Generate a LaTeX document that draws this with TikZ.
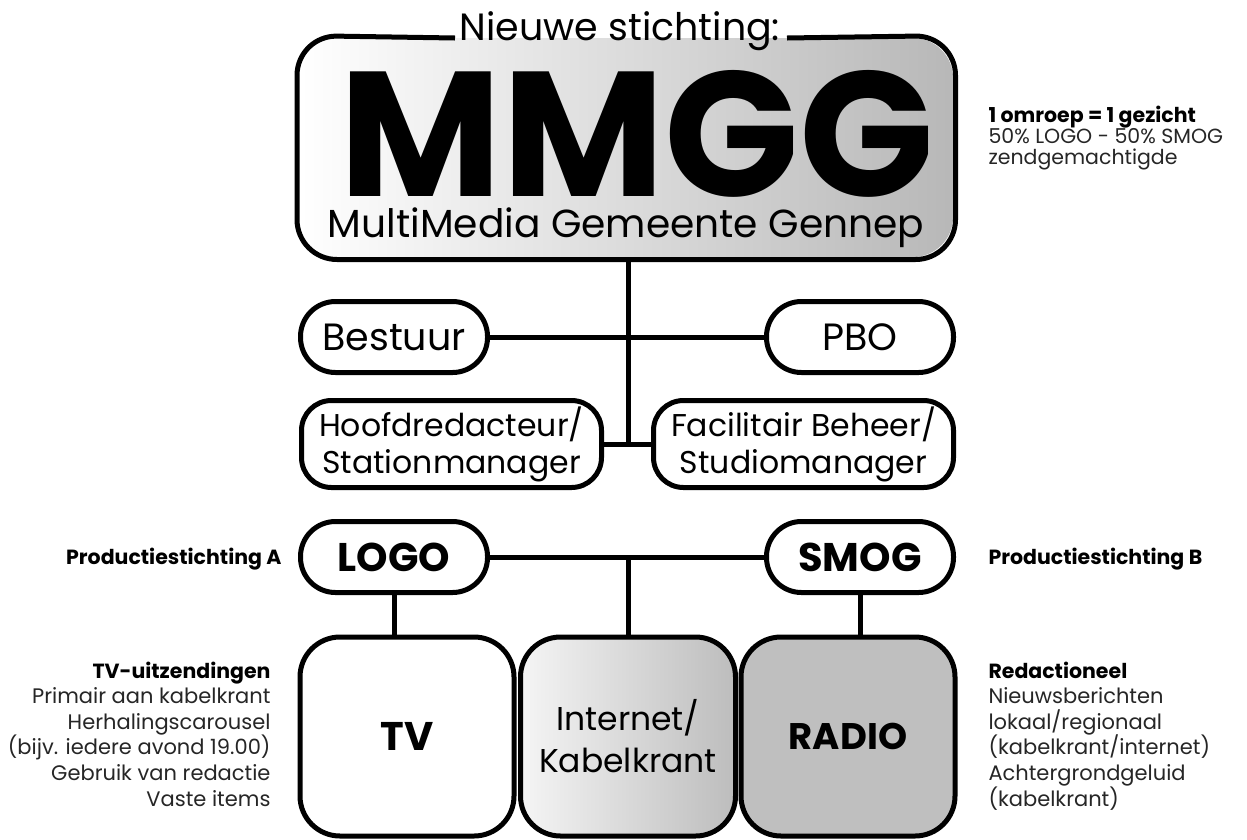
\documentclass[tikz,border=0pt]{standalone}
\usepackage{fontspec}
\setmainfont{Poppins}
\usepackage{graphicx}
\begin{document}
\begin{tikzpicture}[x=1pt,y=-1pt,line width=5pt,
  box/.style={draw,rectangle,inner sep=0pt,align=center},
  pill/.style={box,rounded corners=35pt,minimum width=187pt,minimum height=71pt},
  wide/.style={box,rounded corners=30pt,minimum width=300pt,minimum height=87pt,font=\fontsize{31.5}{37}\selectfont},
  big/.style={box,rounded corners=40pt,minimum width=214pt,minimum height=199pt},
  pilltext/.style={font=\fontsize{38}{40}\selectfont},
  pillbold/.style={font=\bfseries\fontsize{40}{40}\selectfont},
  side/.style={inner sep=0pt,font=\fontsize{21}{24}\selectfont,text=black!85},
  sidebold/.style={inner sep=0pt,font=\bfseries\fontsize{20.5}{24}\selectfont},
  note/.style={inner sep=0pt,font=\fontsize{20.5}{22}\selectfont,text=black!85},
  notebold/.style={inner sep=0pt,font=\bfseries\fontsize{20.5}{22}\selectfont}]
\useasboundingbox[fill=white] (0,0) rectangle (1247,839);

% main box
\node[rectangle,rounded corners=40pt,left color=white,right color=black!28,
  minimum width=653.5pt,minimum height=219pt,inner sep=0pt] (mmgg) at (626.25,147.5) {};
\coordinate (gapL) at (455,38);
\coordinate (gapR) at (787,38);
\draw[rounded corners=40pt] (gapL) -- (mmgg.north west) -- (mmgg.south west)
  -- (mmgg.south east) -- (mmgg.north east) -- (gapR);
\node[inner sep=0pt,anchor=base] (title) at (620,40) {\resizebox{320pt}{!}{Nieuwe stichting:}};
\node[inner sep=0pt,anchor=north] (mmggtxt) at (637,68) {\resizebox{594pt}{126pt}{\bfseries MMGG}};
\node[inner sep=0pt,anchor=base] (sub) at (626,237) {\resizebox{596pt}{!}{MultiMedia Gemeente Gennep}};

% second level
\node[pill,pilltext] (bestuur) at (394,337) {Bestuur};
\node[pill,pilltext] (pbo) at (860,337) {PBO};
\node[wide] (hoofd) at (451.5,444) {Hoofdredacteur/\\Stationmanager};
\node[wide] (fac) at (803.5,444) {Facilitair Beheer/\\Studiomanager};
\coordinate (hub) at (628,444);
\draw (mmgg.south -| hub) -- (hub);
\draw (bestuur) -- (pbo);
\draw (hoofd) -- (fac);

% production foundations
\node[pill,pillbold] (logo) at (394,557) {LOGO};
\node[pill,pillbold] (smog) at (860,557) {SMOG};
\draw (logo) -- (smog);

% media boxes
\node[big,fill=white,font=\bfseries\fontsize{40}{40}\selectfont] (tv) at (407,736.5) {TV};
\node[big,left color=white!96!black,right color=black!26,minimum width=215pt,
  font=\fontsize{33}{42}\selectfont] (internet) at (628,736.5) {Internet/\\Kabelkrant};
\node[big,fill=black!25,font=\bfseries\fontsize{37}{40}\selectfont] (radio) at (848,736.5) {RADIO};
\draw (logo.east -| internet.north) -- (internet.north);
\draw (logo.south) -- (logo.south |- tv.north);
\draw (smog.south) -- (smog.south |- radio.north);

% side labels
\node[notebold,anchor=base east] (pa) at (284,564) {Productiestichting A};
\node[notebold,anchor=base west] (pb) at (986,564) {Productiestichting B};

\node[notebold,anchor=base west] (r1) at (986,122) {1 omroep = 1 gezicht};
\node[note,anchor=base west] (r2) at (986,143) {50\% LOGO - 50\% SMOG};
\node[note,anchor=base west] (r3) at (986,164) {zendgemachtigde};

\node[sidebold,anchor=base east] (tvh) at (273,678) {TV-uitzendingen};
\foreach \t [count=\i] in {Primair aan kabelkrant,Herhalingscarousel,{(bijv. iedere avond 19.00)},Gebruik van redactie,Vaste items}
  \node[side,anchor=base east] (tvl\i) at (273,678+25.6*\i) {\t};

\node[sidebold,anchor=base west] (rh) at (986,678) {Redactioneel};
\foreach \t [count=\i] in {Nieuwsberichten,lokaal/regionaal,{(kabelkrant/internet)},Achtergrondgeluid,{(kabelkrant)}}
  \node[side,anchor=base west] (rl\i) at (986,678+25.6*\i) {\t};
\end{tikzpicture}
\end{document}
